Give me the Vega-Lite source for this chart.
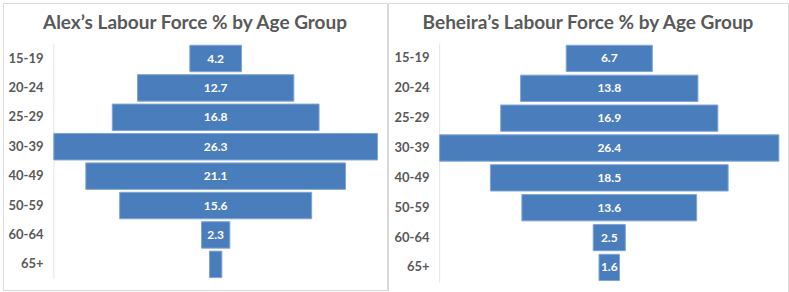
{
  "$schema": "https://vega.github.io/schema/vega-lite/v6.json",
  "padding": {"left": 2, "top": 2, "right": 0, "bottom": 0},
  "spacing": 1,
  "bounds": "flush",
  "background": "white",
  "datasets": {
    "alex": [
      {"age": "15-19", "value": 4.2},
      {"age": "20-24", "value": 12.7},
      {"age": "25-29", "value": 16.8},
      {"age": "30-39", "value": 26.3},
      {"age": "40-49", "value": 21.1},
      {"age": "50-59", "value": 15.6},
      {"age": "60-64", "value": 2.3},
      {"age": "65+", "value": 1.0}
    ],
    "beheira": [
      {"age": "15-19", "value": 6.7},
      {"age": "20-24", "value": 13.8},
      {"age": "25-29", "value": 16.9},
      {"age": "30-39", "value": 26.4},
      {"age": "40-49", "value": 18.5},
      {"age": "50-59", "value": 13.6},
      {"age": "60-64", "value": 2.5},
      {"age": "65+", "value": 1.6}
    ]
  },
  "hconcat": [
    {
      "width": 384,
      "height": 287,
      "data": {"name": "alex"},
      "title": {"text": "Alex’s Labour Force % by Age Group", "offset": -30},
      "encoding": {
        "y": {
          "field": "age", "type": "nominal", "sort": null,
          "scale": {"paddingInner": 0.1, "paddingOuter": 0.93, "align": 0.773},
          "axis": {"orient": "left", "offset": -40, "title": null, "domain": false, "ticks": false, "labelPadding": 0, "labelFont": "Lato", "labelFontWeight": "bold", "labelFontSize": 13, "labelColor": "#595959"}
        }
      },
      "layer": [
        {
          "mark": {"type": "tick", "color": "#d9d9d9", "thickness": 1, "size": 29.4, "orient": "vertical"},
          "encoding": {"x": {"datum": 0, "type": "quantitative", "scale": {"domain": [-4.13, 27.07], "nice": false, "zero": false}, "axis": null}}
        },
        {
          "mark": {"type": "bar", "fill": "#4a7dbb", "stroke": "#7ea5d6", "strokeWidth": 1},
          "encoding": {"x": {"field": "value", "type": "quantitative", "stack": "center", "scale": {"domain": [-4.13, 27.07], "nice": false, "zero": false}, "axis": null}}
        },
        {
          "transform": [{"filter": "datum.value > 1"}],
          "mark": {"type": "text", "color": "white", "font": "Lato", "fontWeight": "bold", "fontSize": 12},
          "encoding": {
            "x": {"datum": 13.15, "type": "quantitative", "scale": {"domain": [-4.13, 27.07], "nice": false, "zero": false}, "axis": null},
            "text": {"field": "value", "type": "quantitative", "format": ".1f"}
          }
        }
      ]
    },
    {
      "width": 400,
      "height": 290,
      "data": {"name": "beheira"},
      "title": {"text": "Beheira’s Labour Force % by Age Group", "offset": -30},
      "encoding": {
        "y": {
          "field": "age", "type": "nominal", "sort": null,
          "scale": {"paddingInner": 0.12, "paddingOuter": 0.916, "align": 0.773},
          "axis": {"orient": "left", "offset": -41, "title": null, "domain": false, "ticks": false, "labelPadding": 0, "labelFont": "Lato", "labelFontWeight": "bold", "labelFontSize": 13, "labelColor": "#595959"}
        }
      },
      "layer": [
        {
          "mark": {"type": "tick", "color": "#d9d9d9", "thickness": 1, "size": 29.9, "orient": "vertical"},
          "encoding": {"x": {"datum": 0, "type": "quantitative", "scale": {"domain": [-4.02, 27.11], "nice": false, "zero": false}, "axis": null}}
        },
        {
          "mark": {"type": "bar", "fill": "#4a7dbb", "stroke": "#7ea5d6", "strokeWidth": 1},
          "encoding": {"x": {"field": "value", "type": "quantitative", "stack": "center", "scale": {"domain": [-4.02, 27.11], "nice": false, "zero": false}, "axis": null}}
        },
        {
          "mark": {"type": "text", "color": "white", "font": "Lato", "fontWeight": "bold", "fontSize": 12},
          "encoding": {
            "x": {"datum": 13.2, "type": "quantitative", "scale": {"domain": [-4.02, 27.11], "nice": false, "zero": false}, "axis": null},
            "text": {"field": "value", "type": "quantitative", "format": ".1f"}
          }
        }
      ]
    }
  ],
  "config": {
    "view": {"stroke": "#d9d9d9", "strokeWidth": 1},
    "title": {"font": "Lato", "fontSize": 19, "fontWeight": "bold", "color": "#595959", "anchor": "middle"}
  }
}
